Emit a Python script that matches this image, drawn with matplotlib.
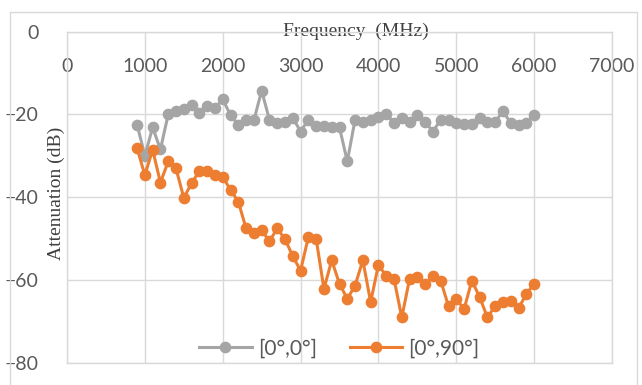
import matplotlib
matplotlib.use("Agg")
import matplotlib.pyplot as plt
from matplotlib.patches import Rectangle

# frequencies (MHz), 100 MHz steps
freq = list(range(900, 6001, 100))

# [0°,0°] attenuation (dB)
att_0_0 = [-22.5, -30.0, -23.2, -28.5, -20.0, -19.3, -18.7, -17.8, -19.7, -18.1,
           -18.5, -16.4, -20.2, -22.5, -21.5, -21.5, -14.3, -21.3, -22.1, -21.8,
           -20.8, -24.2, -21.3, -22.9, -22.9, -23.2, -23.2, -31.4, -21.3, -21.8,
           -21.3, -20.6, -19.9, -22.1, -20.9, -21.8, -20.3, -21.8, -24.2, -21.3,
           -21.5, -22.1, -22.4, -22.4, -20.9, -21.8, -21.8, -19.3, -22.1, -22.6,
           -22.1, -20.1]

# [0°,90°] attenuation (dB)
att_0_90 = [-28.2, -34.7, -28.6, -36.5, -31.4, -33.1, -40.2, -36.7, -33.7, -33.8,
            -34.7, -35.1, -38.3, -41.1, -47.6, -48.8, -48.0, -50.7, -47.6, -50.2,
            -54.3, -57.8, -49.7, -50.1, -62.2, -55.3, -61.0, -64.6, -61.4, -55.3,
            -65.4, -56.4, -59.1, -59.8, -69.1, -59.8, -59.4, -61.0, -59.1, -60.2,
            -66.4, -64.6, -67.1, -60.2, -64.2, -69.1, -66.3, -65.3, -65.2, -66.9,
            -63.4, -61.0]

xticks = [0, 1000, 2000, 3000, 4000, 5000, 6000, 7000]
yticks = [0, -20, -40, -60, -80]

grid_col = "#d9d9d9"
tick_col = "#595959"

fig = plt.figure(figsize=(6.42, 3.85), dpi=100)
# outer chart border
fig.patches.append(Rectangle((10 / 642, -0.1), 627 / 642, 1 - 12 / 385 + 0.1,
                             transform=fig.transFigure, fill=False,
                             edgecolor=grid_col, linewidth=1))

ax = fig.add_axes([67 / 642, 1 - 362.5 / 385, 545 / 642, (362.5 - 31.5) / 385])

ax.plot(freq, att_0_0, color="#a5a5a5", marker="o", markersize=7.4,
        linewidth=2.2, label="[0°,0°]", zorder=3)
ax.plot(freq, att_0_90, color="#ed7d31", marker="o", markersize=7.4,
        linewidth=2.2, label="[0°,90°]", zorder=3)

ax.set_xlim(0, 7000)
ax.set_ylim(-80, 0)
ax.set_xticks(xticks)
ax.set_yticks(yticks)
ax.grid(True, color=grid_col, linewidth=1, zorder=0)
for s in ax.spines.values():
    s.set_color(grid_col)
    s.set_linewidth(1)

ax.tick_params(axis="x", bottom=False, labelbottom=False, top=False,
               labeltop=True, pad=-34.5, labelsize=14, labelcolor=tick_col)
ax.tick_params(axis="y", left=False, pad=17, labelsize=14, labelcolor=tick_col)
for lab in ax.get_xticklabels() + ax.get_yticklabels():
    lab.set_fontfamily("Lato")

ax.set_xlabel("Frequency  (MHz)", family="Liberation Serif", fontsize=14,
              color="#404040")
ax.xaxis.set_label_position("top")
ax.xaxis.set_label_coords(0.53, 1.0)
ax.xaxis.label.set_va("center")

ax.set_ylabel("Attenuation (dB)", family="Liberation Serif", fontsize=14,
              color="#404040")
ax.yaxis.set_label_coords(-0.003, 0.51)

ax.legend(loc="lower center", ncol=2, frameon=False, bbox_to_anchor=(0.5, -0.045),
          prop={"family": "Lato", "size": 15}, labelcolor=tick_col,
          handlelength=2.5, columnspacing=1.6, handletextpad=0.3)

fig.savefig("out.png", dpi=100)
